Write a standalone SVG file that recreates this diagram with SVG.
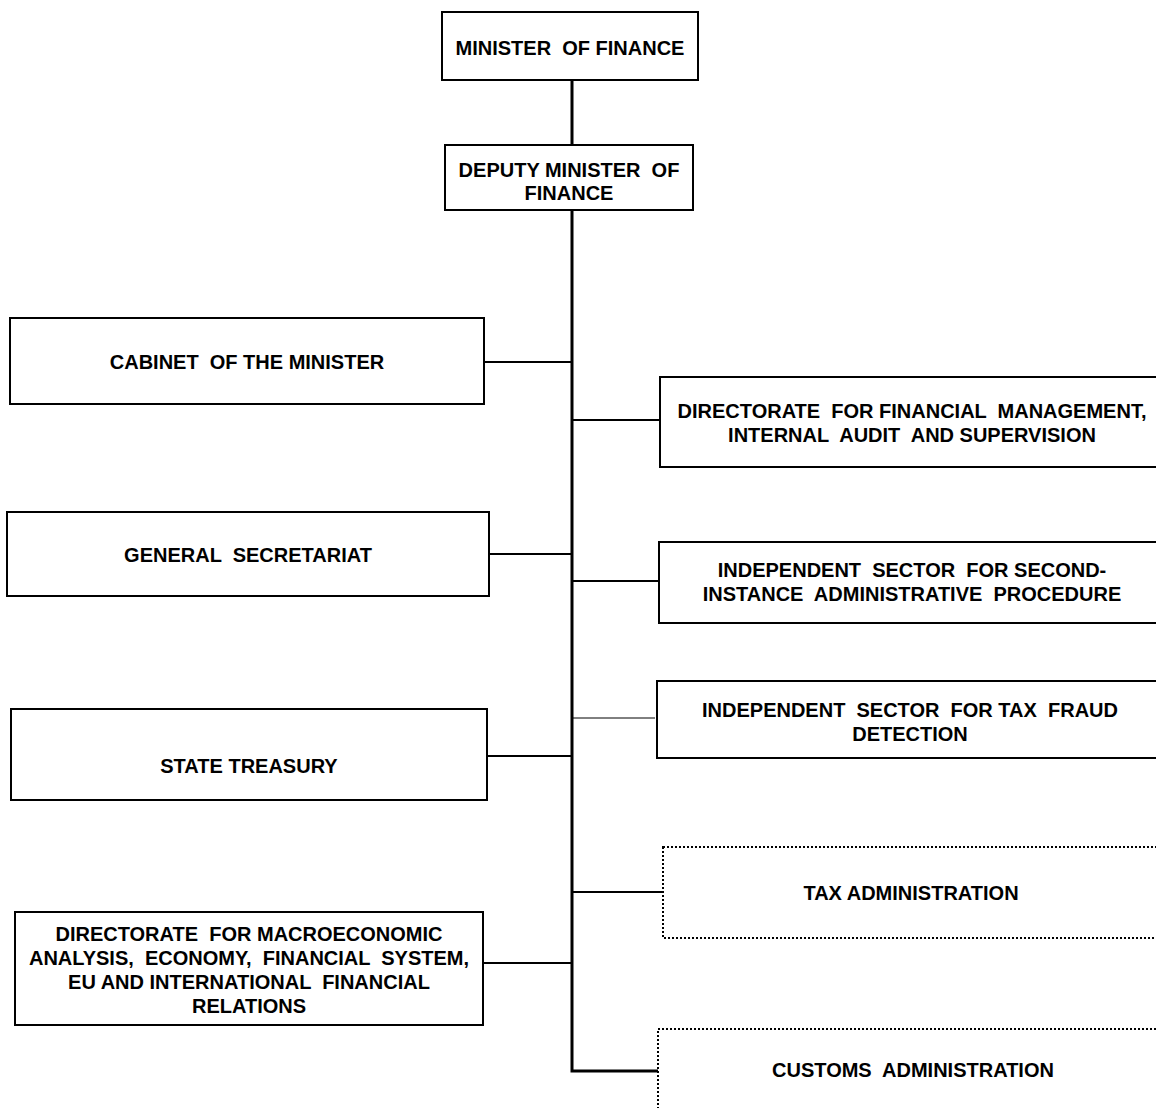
<svg xmlns="http://www.w3.org/2000/svg" width="1156" height="1108" viewBox="0 0 1156 1108">
<style>
.box{fill:#fff;stroke:#000;stroke-width:2}
.dot{fill:#fff;stroke:#000;stroke-width:2;stroke-dasharray:2 2}
.t{font-family:"Liberation Sans",Arial,sans-serif;font-weight:bold;font-size:20px;fill:#000;text-anchor:middle}
.c{stroke:#000;stroke-width:2;fill:none}
</style>
<rect width="1156" height="1108" fill="#fff"/>
<g id="connectors">
<path d="M572 80 V1071 H658" stroke="#000" stroke-width="3" fill="none"/>
<line class="c" x1="485" y1="362" x2="572" y2="362"/>
<line class="c" x1="490" y1="554" x2="572" y2="554"/>
<line class="c" x1="488" y1="756" x2="572" y2="756"/>
<line class="c" x1="484" y1="963" x2="572" y2="963"/>
<line class="c" x1="572" y1="420" x2="660" y2="420"/>
<line class="c" x1="572" y1="581" x2="659" y2="581"/>
<line x1="572" y1="718" x2="655" y2="718" stroke="#000" stroke-width="1"/>
<line class="c" x1="572" y1="892" x2="663" y2="892"/>
</g>
<g id="minister">
<rect class="box" x="442" y="12" width="256" height="68"/>
<text class="t" x="570" y="55" xml:space="preserve">MINISTER  OF FINANCE</text>
</g>
<g id="deputy">
<rect class="box" x="445" y="145" width="248" height="65"/>
<text class="t" x="569" y="177" xml:space="preserve">DEPUTY MINISTER  OF</text>
<text class="t" x="569" y="200">FINANCE</text>
</g>
<g id="cabinet">
<rect class="box" x="10" y="318" width="474" height="86"/>
<text class="t" x="247" y="369" xml:space="preserve">CABINET  OF THE MINISTER</text>
</g>
<g id="general">
<rect class="box" x="7" y="512" width="482" height="84"/>
<text class="t" x="248" y="562" xml:space="preserve">GENERAL  SECRETARIAT</text>
</g>
<g id="treasury">
<rect class="box" x="11" y="709" width="476" height="91"/>
<text class="t" x="249" y="773">STATE TREASURY</text>
</g>
<g id="macro">
<rect class="box" x="15" y="912" width="468" height="113"/>
<text class="t" x="249" y="941" xml:space="preserve">DIRECTORATE  FOR MACROECONOMIC</text>
<text class="t" x="249" y="965" xml:space="preserve">ANALYSIS,  ECONOMY,  FINANCIAL  SYSTEM,</text>
<text class="t" x="249" y="989" xml:space="preserve">EU AND INTERNATIONAL  FINANCIAL</text>
<text class="t" x="249" y="1013">RELATIONS</text>
</g>
<g id="dir-financial">
<rect class="box" x="660" y="377" width="520" height="90"/>
<text class="t" x="912" y="418" xml:space="preserve">DIRECTORATE  FOR FINANCIAL  MANAGEMENT,</text>
<text class="t" x="912" y="442" xml:space="preserve">INTERNAL  AUDIT  AND SUPERVISION</text>
</g>
<g id="second-instance">
<rect class="box" x="659" y="542" width="520" height="81"/>
<text class="t" x="912" y="577" xml:space="preserve">INDEPENDENT  SECTOR  FOR SECOND-</text>
<text class="t" x="912" y="601" xml:space="preserve">INSTANCE  ADMINISTRATIVE  PROCEDURE</text>
</g>
<g id="tax-fraud">
<rect class="box" x="657" y="681" width="520" height="77"/>
<text class="t" x="910" y="717" xml:space="preserve">INDEPENDENT  SECTOR  FOR TAX  FRAUD</text>
<text class="t" x="910" y="741">DETECTION</text>
</g>
<g id="tax-admin">
<rect class="dot" x="663" y="847" width="520" height="91"/>
<text class="t" x="911" y="900">TAX ADMINISTRATION</text>
</g>
<g id="customs">
<rect class="dot" x="658" y="1029" width="520" height="120"/>
<text class="t" x="913" y="1077" xml:space="preserve">CUSTOMS  ADMINISTRATION</text>
</g>
</svg>
